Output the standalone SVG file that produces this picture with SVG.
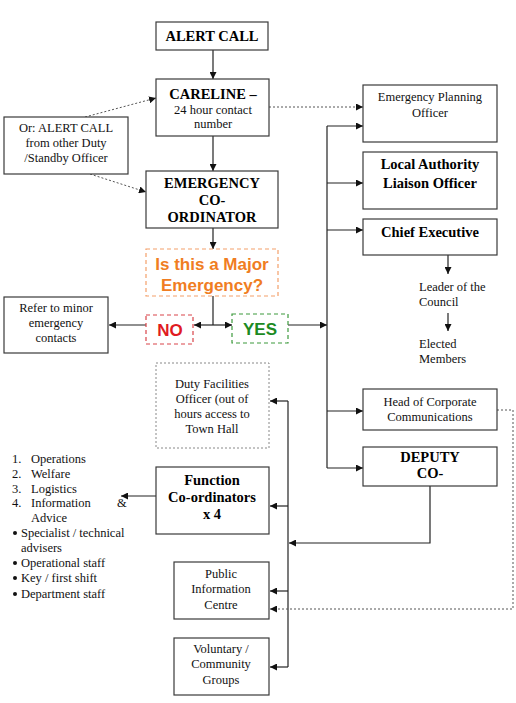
<svg xmlns="http://www.w3.org/2000/svg" width="516" height="703" viewBox="0 0 516 703">
<defs>
<marker id="ah" viewBox="0 0 10 10" refX="10" refY="5" markerWidth="7" markerHeight="7" markerUnits="userSpaceOnUse" orient="auto"><path d="M0,0 L10,5 L0,10 z" fill="#111"/></marker>
</defs>
<style>
.box{fill:#fff;stroke:#3a3a3a;stroke-width:1.2}
.dbox{fill:#fff;stroke:#888;stroke-width:1;stroke-dasharray:2,2}
.t{font-family:'Liberation Serif','DejaVu Serif','Times New Roman',serif;font-size:12.5px;fill:#111;text-anchor:middle}
.tl{font-family:'Liberation Serif','DejaVu Serif','Times New Roman',serif;font-size:12.5px;fill:#111}
.b{font-family:'Liberation Serif','DejaVu Serif','Times New Roman',serif;font-size:14.5px;font-weight:bold;fill:#000;text-anchor:middle}
.q{font-family:'Liberation Sans',Arial,sans-serif;font-size:17px;font-weight:bold;text-anchor:middle}
.ln{fill:none;stroke:#222;stroke-width:1.2}
.dl{fill:none;stroke:#555;stroke-width:1;stroke-dasharray:2,2}
</style>
<rect width="516" height="703" fill="#fff"/>
<g id="connectors">
<line class="ln" x1="213" y1="50" x2="213" y2="79" marker-end="url(#ah)"/>
<line class="ln" x1="213" y1="136" x2="213" y2="171" marker-end="url(#ah)"/>
<line class="ln" x1="213" y1="228" x2="213" y2="249" marker-end="url(#ah)"/>
<line class="dl" x1="85" y1="117" x2="156" y2="98" marker-end="url(#ah)"/>
<line class="dl" x1="90" y1="174" x2="146" y2="192" marker-end="url(#ah)"/>
<line class="dl" x1="269" y1="107" x2="363" y2="107" marker-end="url(#ah)"/>
<polyline class="ln" points="213,296 213,325"/>
<line class="ln" x1="213" y1="325" x2="194" y2="325" marker-end="url(#ah)"/>
<line class="ln" x1="213" y1="325" x2="232" y2="325" marker-end="url(#ah)"/>
<line class="ln" x1="146" y1="325" x2="109" y2="325" marker-end="url(#ah)"/>
<line class="ln" x1="288" y1="325" x2="327" y2="325" marker-end="url(#ah)"/>
<polyline class="ln" points="327,126 327,468"/>
<line class="ln" x1="327" y1="126" x2="363" y2="126" marker-end="url(#ah)"/>
<line class="ln" x1="327" y1="183" x2="363" y2="183" marker-end="url(#ah)"/>
<line class="ln" x1="327" y1="230" x2="363" y2="230" marker-end="url(#ah)"/>
<line class="ln" x1="327" y1="411" x2="363" y2="411" marker-end="url(#ah)"/>
<line class="ln" x1="327" y1="468" x2="363" y2="468" marker-end="url(#ah)"/>
<line class="ln" x1="448" y1="255" x2="448" y2="274" marker-end="url(#ah)"/>
<line class="ln" x1="448" y1="313" x2="448" y2="331" marker-end="url(#ah)"/>
<polyline class="ln" points="430,486 430,543 289,543" marker-end="url(#ah)"/>
<polyline class="ln" points="288,401 288,667"/>
<line class="ln" x1="288" y1="401" x2="270" y2="401" marker-end="url(#ah)"/>
<line class="ln" x1="288" y1="506" x2="270" y2="506" marker-end="url(#ah)"/>
<line class="ln" x1="288" y1="591" x2="270" y2="591" marker-end="url(#ah)"/>
<line class="ln" x1="288" y1="667" x2="270" y2="667" marker-end="url(#ah)"/>
<polyline class="dl" points="497,410 513,410 513,609 270,609" marker-end="url(#ah)"/>
<line class="ln" x1="156" y1="496" x2="121" y2="496" marker-end="url(#ah)"/>
</g>
<g id="alert">
<rect class="box" x="156" y="22" width="112" height="28"/>
<text class="b" x="212" y="41">ALERT CALL</text>
</g>
<g id="careline">
<rect class="box" x="156" y="79" width="113" height="57"/>
<text class="b" x="213" y="99">CARELINE –</text>
<text class="t" x="213" y="114">24 hour contact</text>
<text class="t" x="213" y="128">number</text>
</g>
<g id="oralert">
<rect class="box" x="4" y="117" width="124" height="57"/>
<text class="t" x="66" y="132">Or: ALERT CALL</text>
<text class="t" x="66" y="147">from other Duty</text>
<text class="t" x="66" y="162">/Standby Officer</text>
</g>
<g id="ec">
<rect class="box" x="146" y="171" width="132" height="57"/>
<text class="b" x="212" y="188">EMERGENCY</text>
<text class="b" x="212" y="205">CO-</text>
<text class="b" x="212" y="222">ORDINATOR</text>
</g>
<g id="question">
<rect x="146" y="249" width="132" height="47" fill="#fff" stroke="#F4A06A" stroke-width="1.2" stroke-dasharray="4,3"/>
<text class="q" x="212" y="270" fill="#F07D22">Is this a Major</text>
<text class="q" x="212" y="291" fill="#F07D22">Emergency?</text>
</g>
<g id="no">
<rect x="146" y="315" width="47" height="29" fill="#fff" stroke="#D9444A" stroke-width="1.2" stroke-dasharray="4,3"/>
<text class="q" x="170" y="336" fill="#E01B22" font-size="16.5">NO</text>
</g>
<g id="yes">
<rect x="232" y="314" width="56" height="29" fill="#fff" stroke="#3C9A3C" stroke-width="1.2" stroke-dasharray="4,3"/>
<text class="q" x="260" y="335" fill="#1C8A22" font-size="16.5">YES</text>
</g>
<g id="refer">
<rect class="box" x="4" y="297" width="104" height="56"/>
<text class="t" x="56" y="312">Refer to minor</text>
<text class="t" x="56" y="327">emergency</text>
<text class="t" x="56" y="342">contacts</text>
</g>
<g id="epo">
<rect class="box" x="363" y="85" width="134" height="57"/>
<text class="t" x="430" y="101">Emergency Planning</text>
<text class="t" x="430" y="117">Officer</text>
</g>
<g id="lalo">
<rect class="box" x="363" y="152" width="134" height="57"/>
<text class="b" x="430" y="169">Local Authority</text>
<text class="b" x="430" y="188">Liaison Officer</text>
</g>
<g id="ce">
<rect class="box" x="363" y="219" width="134" height="36"/>
<text class="b" x="430" y="237">Chief Executive</text>
</g>
<g id="leader">
<text class="tl" x="419" y="291">Leader of the</text>
<text class="tl" x="419" y="306">Council</text>
</g>
<g id="elected">
<text class="tl" x="419" y="348">Elected</text>
<text class="tl" x="419" y="363">Members</text>
</g>
<g id="hcc">
<rect class="box" x="363" y="389" width="134" height="41" stroke="#666"/>
<text class="t" x="430" y="406">Head of Corporate</text>
<text class="t" x="430" y="421">Communications</text>
</g>
<g id="deputy">
<rect class="box" x="363" y="447" width="134" height="39"/>
<text class="b" x="430" y="462">DEPUTY</text>
<text class="b" x="430" y="478">CO-</text>
</g>
<g id="dfo">
<rect class="dbox" x="156" y="363" width="113" height="85"/>
<text class="t" x="212" y="388">Duty Facilities</text>
<text class="t" x="212" y="403">Officer (out of</text>
<text class="t" x="212" y="418">hours access to</text>
<text class="t" x="212" y="433">Town Hall</text>
</g>
<g id="func">
<rect class="box" x="156" y="467" width="113" height="67"/>
<text class="b" x="212" y="485">Function</text>
<text class="b" x="212" y="502">Co-ordinators</text>
<text class="b" x="212" y="519" font-size="13">x 4</text>
</g>
<g id="list">
<text class="tl" x="12" y="463">1.</text><text class="tl" x="31" y="463">Operations</text>
<text class="tl" x="12" y="478">2.</text><text class="tl" x="31" y="478">Welfare</text>
<text class="tl" x="12" y="493">3.</text><text class="tl" x="31" y="493">Logistics</text>
<text class="tl" x="12" y="507">4.</text><text class="tl" x="31" y="507">Information</text><text class="tl" x="117" y="507">&amp;</text>
<text class="tl" x="31" y="522">Advice</text>
<circle cx="15" cy="533" r="2" fill="#111"/><text class="tl" x="21" y="537">Specialist / technical</text>
<text class="tl" x="21" y="552">advisers</text>
<circle cx="15" cy="563" r="2" fill="#111"/><text class="tl" x="21" y="567">Operational staff</text>
<circle cx="15" cy="578" r="2" fill="#111"/><text class="tl" x="21" y="582">Key / first shift</text>
<circle cx="15" cy="594" r="2" fill="#111"/><text class="tl" x="21" y="598">Department staff</text>
</g>
<g id="pic">
<rect class="box" x="174" y="562" width="95" height="57"/>
<text class="t" x="221" y="578">Public</text>
<text class="t" x="221" y="593">Information</text>
<text class="t" x="221" y="609">Centre</text>
</g>
<g id="vol">
<rect class="box" x="174" y="638" width="95" height="57"/>
<text class="t" x="221" y="653">Voluntary /</text>
<text class="t" x="221" y="668">Community</text>
<text class="t" x="221" y="684">Groups</text>
</g>
</svg>
